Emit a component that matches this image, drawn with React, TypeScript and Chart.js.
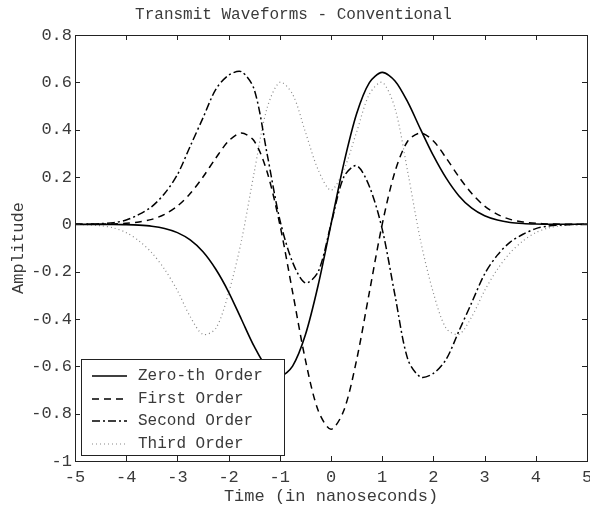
import React, { useEffect, useRef } from "react";
import { Chart, registerables } from "chart.js";

Chart.register(...registerables);

const chartTitle = "Transmit Waveforms - Conventional";
const xAxisTitle = "Time (in nanoseconds)";
const yAxisTitle = "Amplitude";
const seriesLabels = ["Zero-th Order", "First Order", "Second Order", "Third Order"];

const xValues = [
  -5, -4.75, -4.5, -4.25, -4, -3.75, -3.5, -3.25, -3, -2.75, -2.5, -2.25, -2, -1.75, -1.5, -1.25, -1, -0.75, -0.5, -0.25,
  0,
  0.25, 0.5, 0.75, 1, 1.25, 1.5, 1.75, 2, 2.25, 2.5, 2.75, 3, 3.25, 3.5, 3.75, 4, 4.25, 4.5, 4.75, 5,
];

const zerothOrder = [
  0, -0.0001, -0.0002, -0.0005, -0.0014, -0.0035, -0.008, -0.0175, -0.035, -0.066, -0.116, -0.19, -0.286, -0.401, -0.516, -0.606, -0.642, -0.599, -0.467, -0.2565,
  0,
  0.2565, 0.467, 0.599, 0.642, 0.606, 0.516, 0.401, 0.29, 0.195, 0.12, 0.068, 0.036, 0.018, 0.008, 0.0035, 0.0014, 0.0005, 0.0002, 0.0001, 0,
];

const firstOrder = [
  0, 0.0002, 0.0006, 0.0018, 0.0044, 0.01, 0.021, 0.042, 0.077, 0.13, 0.2, 0.28, 0.352, 0.386, 0.352, 0.223, 0, -0.286, -0.573, -0.787,
  -0.866,
  -0.787, -0.573, -0.286, 0, 0.223, 0.352, 0.386, 0.352, 0.28, 0.2, 0.13, 0.077, 0.042, 0.021, 0.01, 0.0044, 0.0018, 0.0006, 0.0002, 0,
];

const secondOrder = [
  0, 0.001, 0.003, 0.007, 0.018, 0.042, 0.075, 0.13, 0.21, 0.33, 0.45, 0.57, 0.63, 0.645, 0.57, 0.3, 0.02, -0.16, -0.248, -0.2,
  0,
  0.2, 0.248, 0.16, -0.02, -0.3, -0.57, -0.645, -0.63, -0.57, -0.45, -0.33, -0.21, -0.13, -0.075, -0.042, -0.018, -0.007, -0.003, -0.001, 0,
];

const thirdOrder = [
  0, -0.002, -0.006, -0.015, -0.035, -0.07, -0.12, -0.19, -0.28, -0.39, -0.465, -0.44, -0.29, -0.07, 0.22, 0.49, 0.6, 0.55, 0.39, 0.23,
  0.144,
  0.23, 0.39, 0.55, 0.6, 0.49, 0.22, -0.07, -0.29, -0.44, -0.465, -0.39, -0.28, -0.19, -0.12, -0.07, -0.035, -0.015, -0.006, -0.002, 0,
];

const FONT = "'Liberation Mono', 'DejaVu Sans Mono', monospace";
const TEXT_COLOR = "#3a3a3a";

export default function App() {
  const ref = useRef<HTMLCanvasElement | null>(null);

  useEffect(() => {
    if (!ref.current) return;
    const mk = (ys: number[]) => xValues.map((x, i) => ({ x, y: ys[i] }));

    const boxPlugin = {
      id: "boxTicks",
      afterDraw(chart: any) {
        const { ctx, chartArea } = chart;
        const { left, right, top, bottom } = chartArea;
        const xs = chart.scales.x;
        const ys = chart.scales.y;
        ctx.save();
        ctx.strokeStyle = "#222";
        ctx.lineWidth = 1;
        ctx.strokeRect(Math.round(left) + 0.5, Math.round(top) + 0.5, Math.round(right - left), Math.round(bottom - top));
        ctx.beginPath();
        xs.ticks.forEach((t: any) => {
          const px = Math.round(xs.getPixelForValue(t.value)) + 0.5;
          ctx.moveTo(px, bottom);
          ctx.lineTo(px, bottom - 5);
          ctx.moveTo(px, top);
          ctx.lineTo(px, top + 5);
        });
        ys.ticks.forEach((t: any) => {
          const py = Math.round(ys.getPixelForValue(t.value)) + 0.5;
          ctx.moveTo(left, py);
          ctx.lineTo(left + 5, py);
          ctx.moveTo(right, py);
          ctx.lineTo(right - 5, py);
        });
        ctx.stroke();
        ctx.restore();
      },
    };

    const legendPlugin = {
      id: "boxLegend",
      afterDatasetsDraw(chart: any) {
        const { ctx, chartArea } = chart;
        const x0 = Math.round(chartArea.left) + 6;
        const y1 = Math.round(chartArea.bottom) - 6;
        const w = 203;
        const h = 96;
        const y0 = y1 - h;
        ctx.save();
        ctx.fillStyle = "#fff";
        ctx.fillRect(x0, y0, w, h);
        ctx.strokeStyle = "#222";
        ctx.lineWidth = 1;
        ctx.strokeRect(x0 + 0.5, y0 + 0.5, w, h);
        const rows = [17, 40, 62, 85];
        chart.data.datasets.forEach((ds: any, i: number) => {
          const yy = y0 + rows[i];
          ctx.beginPath();
          ctx.strokeStyle = ds.borderColor;
          ctx.lineWidth = ds.borderWidth;
          ctx.setLineDash(ds.borderDash || []);
          ctx.moveTo(x0 + 11, yy);
          ctx.lineTo(x0 + 46, yy);
          ctx.stroke();
          ctx.setLineDash([]);
          ctx.fillStyle = TEXT_COLOR;
          ctx.font = `16px ${FONT}`;
          ctx.textBaseline = "middle";
          ctx.textAlign = "left";
          ctx.fillText(ds.label, x0 + 57, yy);
        });
        ctx.restore();
      },
    };

    const chart = new Chart(ref.current, {
      type: "line",
      data: {
        datasets: [
          { label: seriesLabels[0], data: mk(zerothOrder), borderColor: "#000", borderWidth: 1.6, borderDash: [], pointRadius: 0, tension: 0.3 },
          { label: seriesLabels[1], data: mk(firstOrder), borderColor: "#000", borderWidth: 1.5, borderDash: [7, 5], pointRadius: 0, tension: 0.3 },
          { label: seriesLabels[2], data: mk(secondOrder), borderColor: "#000", borderWidth: 1.5, borderDash: [8, 3, 2, 3], pointRadius: 0, tension: 0.3 },
          { label: seriesLabels[3], data: mk(thirdOrder), borderColor: "#888", borderWidth: 1.2, borderDash: [1, 3], pointRadius: 0, tension: 0.3 },
        ],
      },
      options: {
        responsive: false,
        animation: false,
        layout: { padding: { top: 0, right: 3, left: 0, bottom: 0 } },
        plugins: {
          legend: { display: false },
          tooltip: { enabled: false },
          title: {
            display: true,
            text: chartTitle,
            color: TEXT_COLOR,
            font: { family: FONT, size: 16, weight: "normal" },
            padding: { top: 5, bottom: 10.8 },
          },
        },
        scales: {
          x: {
            type: "linear",
            min: -5,
            max: 5,
            ticks: { stepSize: 1, color: TEXT_COLOR, font: { family: FONT, size: 17 }, padding: 6, maxRotation: 0, autoSkip: false },
            grid: { display: false, drawTicks: false },
            border: { display: false },
            title: { display: true, text: xAxisTitle, color: TEXT_COLOR, font: { family: FONT, size: 17 }, padding: { top: 0, bottom: 12 } },
            afterFit: (s: any) => {
              s.height = 58;
              s.paddingLeft = 0;
              s.paddingRight = 0;
            },
          },
          y: {
            type: "linear",
            min: -1,
            max: 0.8,
            ticks: {
              stepSize: 0.2,
              color: TEXT_COLOR,
              font: { family: FONT, size: 17 },
              padding: 3,
              callback: (v: any) => {
                const r = Math.round(Number(v) * 10) / 10;
                return String(r === 0 ? 0 : r);
              },
            },
            grid: { display: false, drawTicks: false },
            border: { display: false },
            title: { display: true, text: yAxisTitle, color: TEXT_COLOR, font: { family: FONT, size: 17 }, padding: { top: 8, bottom: 0 } },
            afterFit: (s: any) => {
              s.width = 75;
              s.paddingTop = 0;
              s.paddingBottom = 0;
            },
          },
        },
      },
      plugins: [boxPlugin, legendPlugin],
    } as any);

    return () => chart.destroy();
  }, []);

  return (
    <div style={{ position: "absolute", left: 0, top: 0, width: 590, height: 519, background: "#fff" }}>
      <canvas ref={ref} width={590} height={519} style={{ display: "block" }} />
    </div>
  );
}
